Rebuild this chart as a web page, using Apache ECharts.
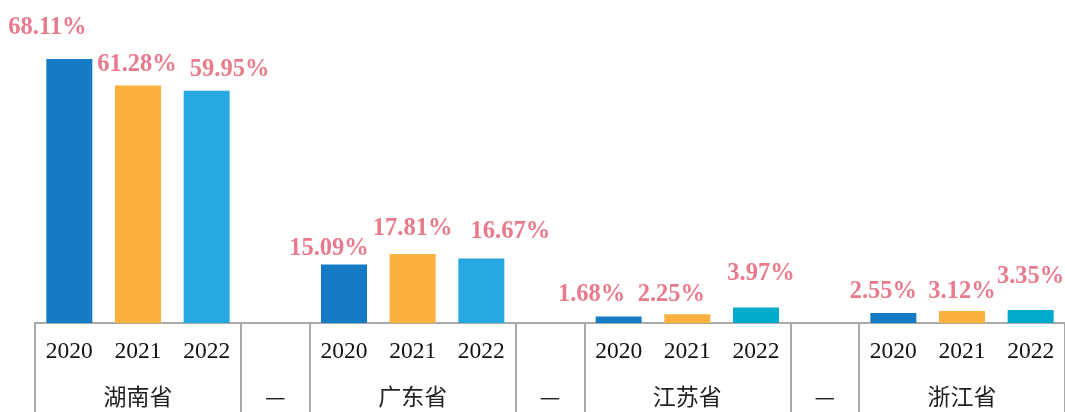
<!DOCTYPE html>
<html>
<head>
<meta charset="utf-8">
<style>
  html, body { margin: 0; padding: 0; background: #ffffff; }
  #chart { width: 1065px; height: 412px; }
</style>
<script src="https://cdn.jsdelivr.net/npm/echarts@6/dist/echarts.min.js"></script>
</head>
<body>
<div id="chart"></div>
<script>
// Provinces and years shown along the bottom axis
const provinces = ['湖南省', '广东省', '江苏省', '浙江省'];
const years = ['2020', '2021', '2022'];
const gapLabel = '—';

// Share (%) per province, one array per year
const share2020 = [68.11, 15.09, 1.68, 2.55];
const share2021 = [61.28, 17.81, 2.25, 3.12];
const share2022 = [59.95, 16.67, 3.97, 3.35];

// Bar colours per year; the last two provinces use a teal tone for 2022
const yearColors = ['#157BC5', '#FBB03F', '#26A9E0'];
const teal2022 = '#02AACB';

// Hand-placed value labels: horizontal shift and height of label centre above the bar
const labelDx = [[-22, -1, 23], [-15, 0, 29], [-27, -16, 5], [-10, 0, 0]];
const labelRise = [[34, 23, 24], [18, 28, 29], [24, 22, 36], [24, 22, 36]];

const yearSeries = [share2020, share2021, share2022];

// Build 15 slots: three years per province, with a spacer slot between provinces
const slotYear = [];
const slotGroup = [];
const barData = [];
provinces.forEach((prov, p) => {
  years.forEach((yr, y) => {
    slotYear.push(yr);
    slotGroup.push(y === 1 ? prov : '');
    const color = (y === 2 && p >= 2) ? teal2022 : yearColors[y];
    barData.push({
      value: yearSeries[y][p],
      itemStyle: { color: color },
      label: { offset: [labelDx[p][y], -(labelRise[p][y] - 15)] }
    });
  });
  if (p < provinces.length - 1) {
    slotYear.push('');
    slotGroup.push(gapLabel);
    barData.push('-');
  }
});
const slotKeys = slotYear.map((_, i) => 's' + i);

// Ticks at the left edge of each province block and each spacer
const dividerIdx = [];
slotYear.forEach((yr, i) => {
  if (yr === '' || yr === years[0]) dividerIdx.push(i);
});

const chart = echarts.init(document.getElementById('chart'));
chart.setOption({
  animation: false,
  backgroundColor: '#ffffff',
  grid: { left: 35, right: 0, top: 13, bottom: 89 },
  xAxis: [
    {
      type: 'category',
      data: slotKeys,
      axisLine: { show: true, lineStyle: { color: '#A9A9A9', width: 2 } },
      axisTick: {
        show: true,
        length: 100,
        interval: (i) => dividerIdx.includes(i),
        lineStyle: { color: '#A9A9A9', width: 2 }
      },
      axisLabel: {
        interval: 0,
        margin: 17,
        fontFamily: 'Liberation Serif',
        fontSize: 23.5,
        color: '#111111',
        formatter: (v, i) => slotYear[i]
      }
    },
    {
      type: 'category',
      position: 'bottom',
      data: slotKeys,
      axisLine: { show: false },
      axisTick: { show: false },
      axisLabel: {
        interval: 0,
        margin: 62,
        fontFamily: 'Noto Sans CJK SC',
        fontSize: 23,
        color: '#222222',
        formatter: (v, i) => slotGroup[i]
      }
    }
  ],
  yAxis: {
    type: 'value',
    min: 0,
    max: 80,
    show: false,
    splitLine: { show: false }
  },
  series: [
    {
      type: 'bar',
      xAxisIndex: 0,
      barWidth: 46,
      data: barData,
      label: {
        show: true,
        position: 'top',
        distance: 0,
        fontFamily: 'Liberation Serif',
        fontWeight: 'bold',
        fontSize: 24.5,
        color: '#E97A8C',
        formatter: (p) => p.value.toFixed(2) + '%'
      }
    }
  ]
});
</script>
</body>
</html>
